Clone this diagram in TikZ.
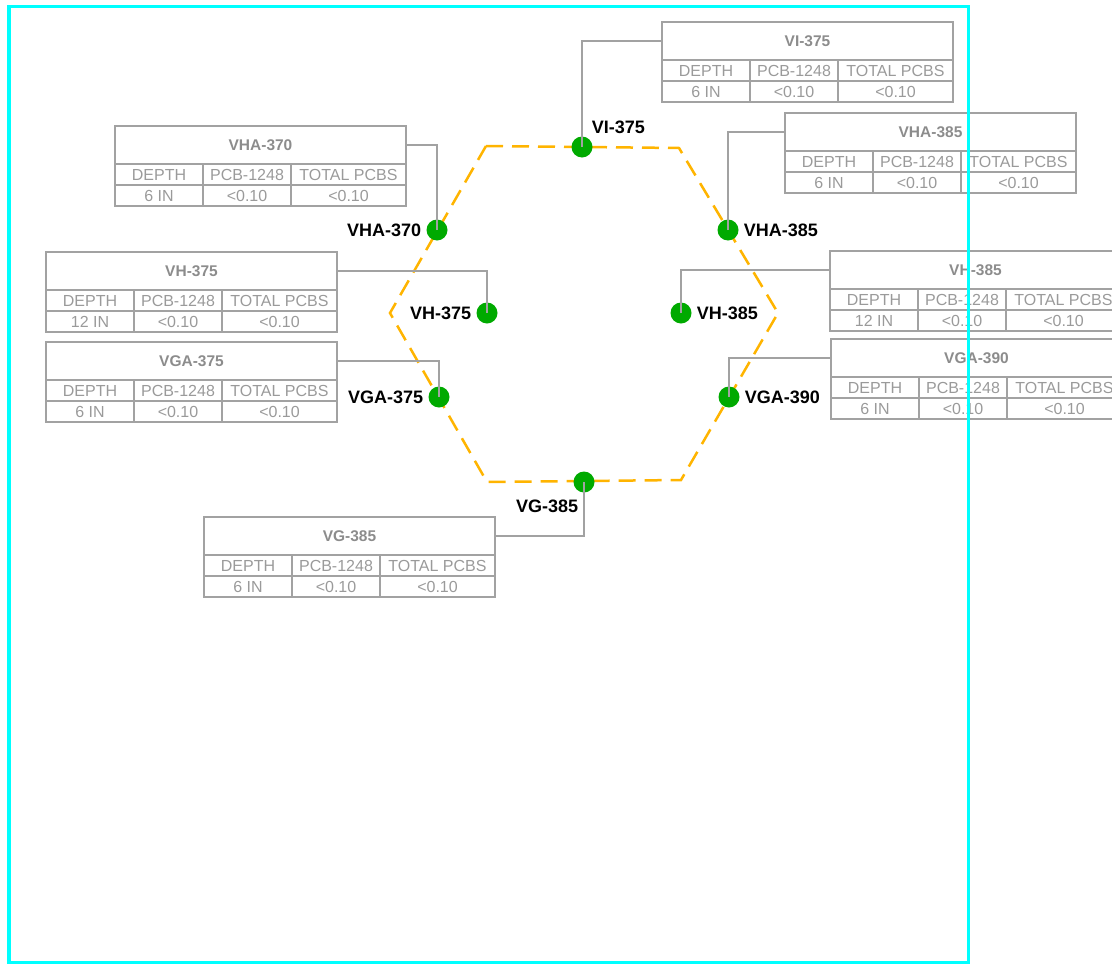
\documentclass[tikz,border=0pt]{standalone}
\usepackage{fontspec}
\setmainfont{Liberation Sans}
\usepackage{xcolor}
\usepackage{tikz}
\usetikzlibrary{
    positioning,
    calc
}
\definecolor{ringorange}{HTML}{FFB400}
\definecolor{dotgreen}{HTML}{00AA00}
\definecolor{tablegray}{HTML}{A2A2A2}
\definecolor{textgray}{HTML}{9A9A9A}
\definecolor{headgray}{HTML}{8C8C8C}
\definecolor{framecyan}{HTML}{00FFFF}
\tikzset{
  cell/.style = {
      draw=tablegray,
      line width=2pt,
      rectangle,
      text=textgray,
      font=\fontsize{16}{18}\selectfont,
      minimum height=21pt,
      inner sep=0pt,
      outer sep=0pt,
      anchor=north west
  },
  tabhead/.style = {
      cell,
      minimum width=291pt,
      minimum height=38pt,
      text=headgray,
      font=\bfseries\fontsize{15.5}{17}\selectfont
  },
  sample/.style = {
      circle,
      fill=dotgreen,
      minimum size=21pt,
      inner sep=0pt
  },
  pointlabel/.style = {
      font=\bfseries\fontsize{18}{20}\selectfont,
      inner sep=0pt
  },
  ring/.style = {
      draw=ringorange,
      line width=2.5pt,
      dash pattern=on 17pt off 9pt
  },
  lead/.style = {
      draw=tablegray,
      line width=1.2pt
  },
  outerframe/.style = {
      draw=framecyan,
      line width=3.5pt
  }
}
% one result table: name, top left corner, title, depth
\newcommand{\sampletable}[4]{%
  \node[tabhead] (#1) at (#2) {#3};
  \node[cell, minimum width=88pt] (#1-a) at (#1.south west) {DEPTH};
  \node[cell, minimum width=88pt, right=0pt of #1-a] (#1-b) {PCB-1248};
  \node[cell, minimum width=115pt, right=0pt of #1-b] (#1-c) {TOTAL PCBS};
  \node[cell, minimum width=88pt, below=0pt of #1-a] (#1-d) {#4};
  \node[cell, minimum width=88pt, right=0pt of #1-d] (#1-e) {<0.10};
  \node[cell, minimum width=115pt, right=0pt of #1-e] (#1-f) {<0.10};
}

\begin{document}
\begin{tikzpicture}[x=1pt, y=-1pt, node distance=5pt]
        \useasboundingbox (0,0) rectangle (1112,964);
        % Hexagon
        \draw[ring] (486,146) -- (679,148) -- (778,313) -- (681,480)
            -- (487,482) -- (390,313) -- cycle;
        % Tables
        \sampletable{tVI}{662,22}{VI-375}{6 IN}
        \sampletable{tVHAa}{115,126}{VHA-370}{6 IN}
        \sampletable{tVHAb}{785,113}{VHA-385}{6 IN}
        \sampletable{tVHa}{46,252}{VH-375}{12 IN}
        \sampletable{tVHb}{830,251}{VH-385}{12 IN}
        \sampletable{tVGAa}{46,342}{VGA-375}{6 IN}
        \sampletable{tVGAb}{831,339}{VGA-390}{6 IN}
        \sampletable{tVG}{204,517}{VG-385}{6 IN}
        % Points
        \node[sample] (vi) at (582,147) {};
        \node[sample] (vhaa) at (437,230) {};
        \node[sample] (vhab) at (728,230) {};
        \node[sample] (vha) at (487,313) {};
        \node[sample] (vhb) at (681,313) {};
        \node[sample] (vgaa) at (439,397) {};
        \node[sample] (vgab) at (729,397) {};
        \node[sample] (vg) at (584,482) {};
        % Leads
        \draw[lead] (vi.center) |- (tVI.west);
        \draw[lead] (vhaa.center) |- (tVHAa.east);
        \draw[lead] (vhab.center) |- (tVHAb.west);
        \draw[lead] (vha.center) |- (tVHa.east);
        \draw[lead] (vhb.center) |- (tVHb.west);
        \draw[lead] (vgaa.center) |- (tVGAa.east);
        \draw[lead] (vgab.center) |- (tVGAb.west);
        \draw[lead] (vg.center) |- (tVG.east);
        % Labels
        \node[pointlabel, above right=6pt and 2pt of vi] {VI-375};
        \node[pointlabel, left=of vhaa] {VHA-370};
        \node[pointlabel, right=of vhab] {VHA-385};
        \node[pointlabel, left=of vha] {VH-375};
        \node[pointlabel, right=of vhb] {VH-385};
        \node[pointlabel, left=of vgaa] {VGA-375};
        \node[pointlabel, right=of vgab] {VGA-390};
        \node[pointlabel, below left=10pt and -2pt of vg] {VG-385};
        % Frame
        \draw[outerframe] (9,6.5) rectangle (968.3,963);
    \end{tikzpicture}
\end{document}
